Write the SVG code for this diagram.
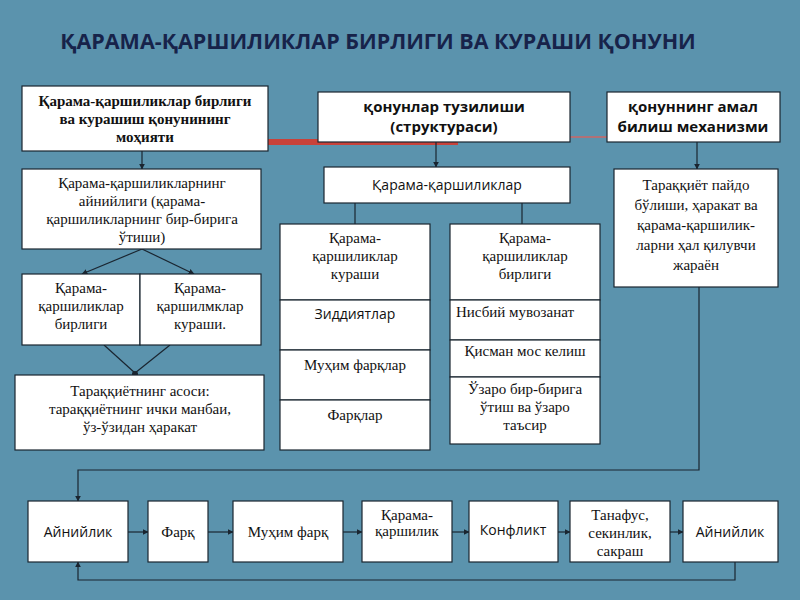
<svg xmlns="http://www.w3.org/2000/svg" width="800" height="600" viewBox="0 0 800 600">
<defs>
<marker id="ah" viewBox="0 0 10 10" refX="9" refY="5" markerWidth="5" markerHeight="5" orient="auto"><path d="M0,0 L10,5 L0,10 z" fill="#1a2530"/></marker>
<style>
.b{fill:#fff;stroke:#1a2530;stroke-width:1.2}
.s{font-family:"Liberation Serif",serif;font-size:15px;fill:#111;text-anchor:middle}
.o{font-family:"Open Sans",sans-serif;font-size:14px;fill:#111;text-anchor:middle}
.ob{font-family:"Open Sans",sans-serif;font-size:15px;font-weight:bold;fill:#111;text-anchor:middle}
.sb{font-family:"Liberation Serif",serif;font-size:15px;font-weight:bold;fill:#111;text-anchor:middle}
.c{stroke:#1a2530;stroke-width:1.2;fill:none}
.a{marker-end:url(#ah)}
</style>
</defs>
<rect width="800" height="600" fill="#5b93ad"/>
<text x="378" y="49" font-family="Open Sans,sans-serif" font-size="21.5" font-weight="bold" fill="#17234a" text-anchor="middle">ҚАРАМА-ҚАРШИЛИКЛАР БИРЛИГИ ВА КУРАШИ ҚОНУНИ</text>
<g id="connectors">
<line x1="268" y1="142" x2="458" y2="142" stroke="#c9423a" stroke-width="6"/>
<line x1="458" y1="137" x2="608" y2="137" stroke="#c66" stroke-width="1.5"/>
<line class="c a" x1="142" y1="151" x2="142" y2="169"/>
<line class="c a" x1="436" y1="142" x2="436" y2="167"/>
<line class="c a" x1="697" y1="142" x2="697" y2="169"/>
<line class="c" x1="355" y1="203" x2="355" y2="224"/>
<line class="c" x1="522" y1="203" x2="522" y2="224"/>
<line class="c a" x1="142" y1="249" x2="82" y2="274"/>
<line class="c a" x1="142" y1="249" x2="194" y2="274"/>
<line class="c" x1="104" y1="345" x2="135" y2="373"/>
<line class="c" x1="170" y1="345" x2="135" y2="373"/>
<circle cx="135" cy="374" r="3" fill="#1a2530"/>
<polyline class="c a" points="699,287 699,470 78,470 78,501"/>
<polyline class="c a" points="735,562 735,580 78,580 78,562"/>
<line class="c a" x1="128" y1="532" x2="148" y2="532"/>
<line class="c a" x1="208" y1="532" x2="233" y2="532"/>
<line class="c a" x1="343" y1="532" x2="362" y2="532"/>
<line class="c a" x1="452" y1="532" x2="469" y2="532"/>
<line class="c a" x1="558" y1="532" x2="570" y2="532"/>
<line class="c a" x1="670" y1="532" x2="683" y2="532"/>
</g>
<g id="nA"><rect class="b" x="22" y="86" width="246" height="65"/>
<text class="sb" x="145" y="106">Қарама-қаршиликлар бирлиги</text><text class="sb" x="145" y="124">ва курашиш қонунининг</text><text class="sb" x="145" y="142">моҳияти</text></g>
<g id="nB"><rect class="b" x="318" y="92" width="252" height="50"/>
<text class="ob" x="444" y="112">қонунлар тузилиши</text><text class="ob" x="444" y="132">(структураси)</text></g>
<g id="nC"><rect class="b" x="607" y="92" width="173" height="50"/>
<text class="ob" x="693" y="112">қонуннинг амал</text><text class="ob" x="693" y="132">билиш механизми</text></g>
<g id="nD"><rect class="b" x="22" y="169" width="239" height="80"/>
<text class="s" x="142" y="188">Қарама-қаршиликларнинг</text><text class="s" x="142" y="206">айнийлиги (қарама-</text><text class="s" x="142" y="224">қаршиликларнинг бир-бирига</text><text class="s" x="142" y="242">ўтиши)</text></g>
<g id="nE"><rect class="b" x="324" y="167" width="246" height="36"/>
<text class="o" x="447" y="190" font-size="15">Қарама-қаршиликлар</text></g>
<g id="nF"><rect class="b" x="614" y="169" width="164" height="118"/>
<text class="s" x="696" y="190">Тараққиёт пайдо</text><text class="s" x="696" y="210">бўлиши, ҳаракат ва</text><text class="s" x="696" y="230">қарама-қаршилик-</text><text class="s" x="696" y="250">ларни ҳал қилувчи</text><text class="s" x="696" y="270">жараён</text></g>
<g id="nP1"><rect class="b" x="22" y="274" width="118" height="71"/>
<text class="s" x="81" y="293">Қарама-</text><text class="s" x="81" y="311">қаршиликлар</text><text class="s" x="81" y="329">бирлиги</text></g>
<g id="nP2"><rect class="b" x="140" y="274" width="121" height="71"/>
<text class="s" x="200" y="293">Қарама-</text><text class="s" x="200" y="311">қаршилмклар</text><text class="s" x="200" y="329">кураши.</text></g>
<g id="nG"><rect class="b" x="15" y="375" width="249" height="75"/>
<text class="s" x="140" y="396">Тараққиётнинг асоси:</text><text class="s" x="140" y="414">тараққиётнинг ички манбаи,</text><text class="s" x="140" y="432">ўз-ўзидан ҳаракат</text></g>
<g id="nH"><rect class="b" x="280" y="224" width="150" height="76"/>
<text class="s" x="355" y="243">Қарама-</text><text class="s" x="355" y="261">қаршиликлар</text><text class="s" x="355" y="279">кураши</text>
<rect class="b" x="280" y="300" width="150" height="50"/><text class="o" x="355" y="319">Зиддиятлар</text>
<rect class="b" x="280" y="350" width="150" height="50"/><text class="s" x="355" y="370">Муҳим фарқлар</text>
<rect class="b" x="280" y="400" width="150" height="50"/><text class="s" x="355" y="420">Фарқлар</text></g>
<g id="nI"><rect class="b" x="450" y="224" width="150" height="76"/>
<text class="s" x="525" y="243">Қарама-</text><text class="s" x="525" y="261">қаршиликлар</text><text class="s" x="525" y="279">бирлиги</text>
<rect class="b" x="450" y="300" width="150" height="40"/><text class="s" x="515" y="317" font-size="13">Нисбий мувозанат</text>
<rect class="b" x="450" y="340" width="150" height="37"/><text class="s" x="525" y="356" font-size="13">Қисман мос келиш</text>
<rect class="b" x="450" y="377" width="150" height="67"/><text class="s" x="525" y="394">Ўзаро бир-бирига</text><text class="s" x="525" y="412">ўтиш ва ўзаро</text><text class="s" x="525" y="430">таъсир</text></g>
<g id="n1"><rect class="b" x="28" y="501" width="100" height="61"/><text class="o" x="78" y="537" font-size="15">Айнийлик</text></g>
<g id="n2"><rect class="b" x="148" y="501" width="60" height="61"/><text class="s" x="178" y="537">Фарқ</text></g>
<g id="n3"><rect class="b" x="233" y="501" width="110" height="61"/><text class="s" x="288" y="537">Муҳим фарқ</text></g>
<g id="n4"><rect class="b" x="362" y="501" width="90" height="61"/><text class="s" x="407" y="520" font-size="13">Қарама-</text><text class="s" x="407" y="536" font-size="13">қаршилик</text></g>
<g id="n5"><rect class="b" x="469" y="501" width="89" height="61"/><text class="o" x="513" y="535">Конфликт</text></g>
<g id="n6"><rect class="b" x="570" y="501" width="100" height="61"/><text class="s" x="620" y="520" font-size="14">Танафус,</text><text class="s" x="620" y="538" font-size="14">секинлик,</text><text class="s" x="620" y="556" font-size="14">сакраш</text></g>
<g id="n7"><rect class="b" x="683" y="501" width="95" height="61"/><text class="o" x="730" y="537" font-size="15">Айнийлик</text></g>
</svg>
